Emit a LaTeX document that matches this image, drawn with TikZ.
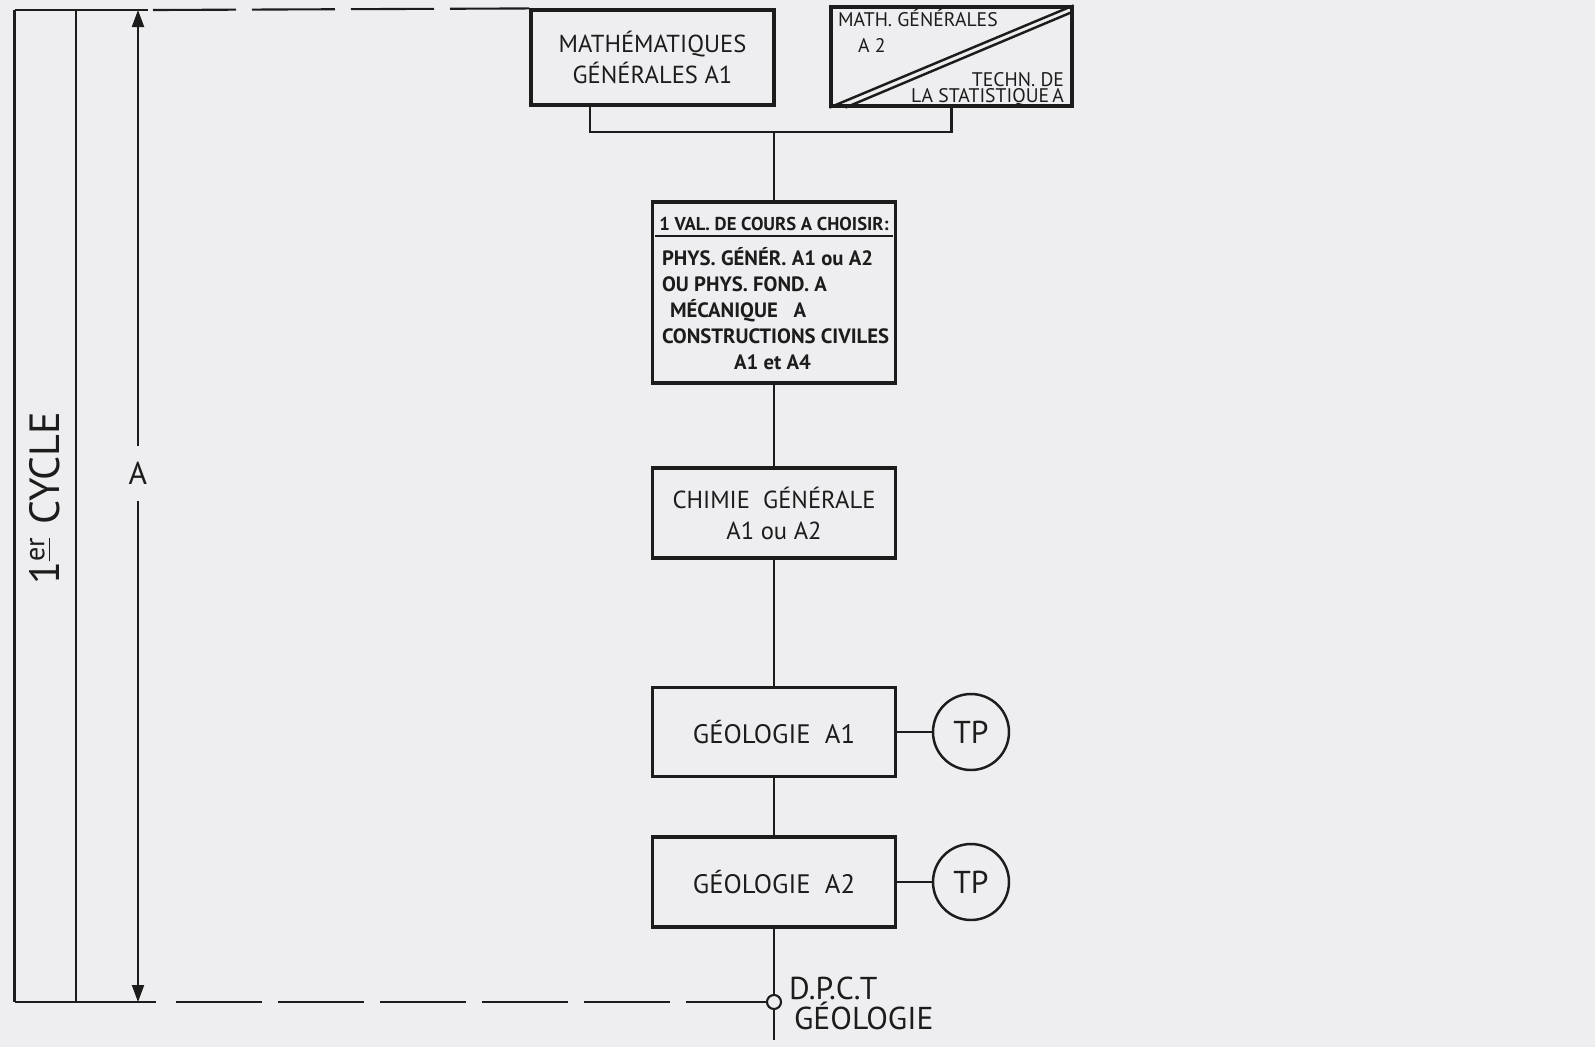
\documentclass[tikz,border=0pt]{standalone}
\usepackage{fontspec}
\setmainfont{PT Sans}
\usetikzlibrary{arrows.meta,positioning}
\definecolor{paper}{RGB}{238,238,240}
\definecolor{ink}{RGB}{28,28,28}

\begin{document}
\begin{tikzpicture}[>={Triangle[length=1.7mm,width=1.2mm]}, line width=0.6pt, color=ink,
  ue/.style={draw,line width=0.9pt,minimum width=2.43cm,inner sep=0pt,align=center},
  tp/.style={draw,circle,line width=0.7pt,minimum size=7.6mm,inner sep=0pt,font=\fontsize{9}{10}\selectfont},
  small/.style={inner sep=0pt,font=\fontsize{5.6}{6.5}\selectfont}]
\fill[paper] (0,0) rectangle (15.95,-10.47);
\useasboundingbox (0,0) rectangle (15.95,-10.47);

\node[ue,minimum height=9.5mm,font=\fontsize{7}{8.6}\selectfont] (math1) at (6.525,-0.575) {MATHÉMATIQUES\\GÉNÉRALES A1};
\node[ue,minimum width=2.41cm,minimum height=9.9mm] (math2) at (9.515,-0.565) {};
\draw[line width=0.7pt] (math2.south west) -- (math2.north east);
\draw[line width=0.7pt] ([xshift=1.6mm]math2.south west) -- ([yshift=-0.6mm]math2.north east);
\node[small,anchor=base west] (m2a) at (8.37,-0.265) {MATH. GÉNÉRALES};
\node[small,anchor=base west] (m2b) at (8.57,-0.52) {A 2};
\node[small,anchor=base east] (m2c) at (10.65,-0.86) {TECHN. DE};
\node[small,anchor=base east] (m2d) at (10.65,-1.02) {LA STATISTIQUE\,A};

\coordinate (fork) at (7.74,-1.32);
\draw ([xshift=-6.25mm]math1.south) |- (fork) -| (math2.south);

\node[ue,minimum height=1.81cm] (val) at (7.74,-2.925) {};
\node[below=1.2mm of val.north,font=\bfseries\fontsize{5.3}{6}\selectfont,minimum width=2.35cm,inner xsep=0pt,inner ysep=0.4mm] (valhead) {1 VAL. DE COURS A CHOISIR:};
\draw[line width=0.7pt] (valhead.south west) -- (valhead.south east);
\node[anchor=north west,align=left,inner sep=0pt,font=\bfseries\fontsize{5.9}{7.4}\selectfont] (valbody) at (6.61,-2.46)
  {PHYS. GÉNÉR. A1 ou A2\\OU PHYS.\ FOND.\ A\\\hspace*{0.8mm}MÉCANIQUE\ \ \ A\\CONSTRUCTIONS CIVILES\\\hspace*{7.2mm}A1 et A4};

\node[ue,minimum height=9mm,font=\fontsize{7}{8.8}\selectfont] (chem) at (7.74,-5.13) {CHIMIE\ \ GÉNÉRALE\\A1 ou A2};
\node[ue,minimum height=8.9mm,font=\fontsize{7.6}{8}\selectfont] (geo1) at (7.74,-7.32) {GÉOLOGIE\ \ A1};
\node[ue,minimum height=9mm,font=\fontsize{7.6}{8}\selectfont] (geo2) at (7.74,-8.82) {GÉOLOGIE\ \ A2};
\node[tp] (tp1) at (9.71,-7.32) {TP};
\node[tp] (tp2) at (9.71,-8.82) {TP};
\node[draw,circle,minimum size=1.4mm,inner sep=0pt] (dpct) at (7.74,-10.02) {};
\coordinate (tail) at (7.74,-10.40);
\node[anchor=base west,inner sep=0pt,font=\fontsize{9}{10}\selectfont] (dpctlab) at (7.88,-9.99) {D.P.C.T};
\node[anchor=base west,inner sep=0pt,font=\fontsize{9}{10}\selectfont] (geolab) at (7.93,-10.29) {GÉOLOGIE};

\draw (fork) -- (val);
\draw (val) -- (chem);
\draw (chem) -- (geo1);
\draw (geo1) -- (geo2);
\draw (geo1) -- (tp1);
\draw (geo2) -- (tp2);
\draw (geo2) -- (dpct);
\draw (dpct) -- (tail);

\coordinate (topL) at (0.145,-0.10);
\coordinate (topS) at (1.48,-0.10);
\coordinate (topD) at (1.53,-0.10);
\coordinate (botL) at (0.145,-10.02);
\coordinate (botS) at (1.56,-10.02);
\coordinate (botD) at (1.76,-10.02);
\coordinate (innerT) at (0.76,-0.10);
\coordinate (innerB) at (0.76,-10.02);
\coordinate (arrT) at (1.38,-0.10);
\coordinate (arrB) at (1.38,-10.02);
\draw (topL) -- (topS);
\draw[dash pattern=on 8.3mm off 1.6mm] (topD) -- (math1.north west);
\draw (botL) -- (botS);
\draw[dash pattern=on 8.6mm off 1.6mm] (botD) -- (dpct);
\draw (topL) -- (botL);
\draw (innerT) -- (innerB);
\draw[<->] (arrT) -- (arrB) node[pos=0.467,fill=paper,inner xsep=0.5mm,inner ysep=1.6mm,font=\fontsize{9}{10}\selectfont] (dimA) {A};
\node[rotate=90,font=\fontsize{12}{13}\selectfont] (cycle) at (0.45,-4.98) {1\textsuperscript{\underline{er}} CYCLE};
\end{tikzpicture}
\end{document}
